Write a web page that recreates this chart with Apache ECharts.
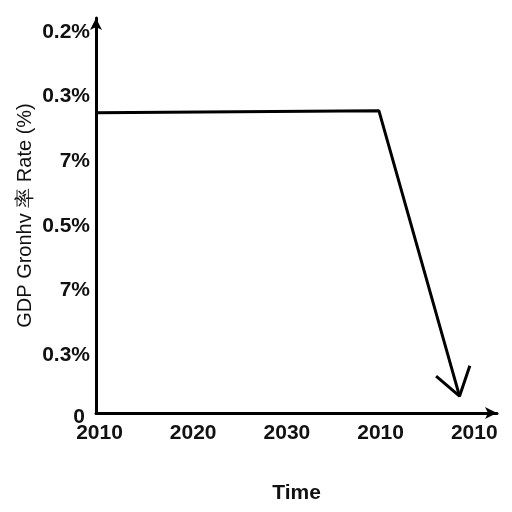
<!DOCTYPE html>
<html>
<head>
<meta charset="utf-8">
<script src="https://cdn.jsdelivr.net/npm/echarts@6/dist/echarts.min.js"></script>
<style>html,body{margin:0;padding:0;background:#fff}#c{width:512px;height:512px}</style>
</head>
<body>
<div id="c"></div>
<script>
// Tick labels (as printed on the chart)
const xTickLabels = ['2010', '2020', '2030', '2010', '2010'];
const yTickLabels = ['0', '0.3%', '7%', '0.5%', '7%', '0.3%', '0.2%'];
// Main trend line: [x position index, y position index]
const trendX = [0, 3.02, 3.88];
const trendY = [4.64, 4.67, 0.26];
// Open arrowhead at the end of the trend
const headX = [3.63, 3.88, 3.99];
const headY = [0.57, 0.26, 0.73];

const font = '"Liberation Sans", Arial, sans-serif';
const chart = echarts.init(document.getElementById('c'), null, {renderer: 'canvas'});
const lab = {fontFamily: font, fontSize: 21, fontWeight: 'bold', color: '#111'};
chart.setOption({
  backgroundColor: '#fff',
  animation: false,
  grid: {left: 96, right: 15, top: 18, bottom: 99},
  xAxis: {
    type: 'value', min: 0, max: 4.28, interval: 1,
    name: 'Time', nameLocation: 'middle', nameGap: 70, nameMoveOverlap: false,
    nameTextStyle: {fontFamily: font, fontSize: 21, fontWeight: 'bold', color: '#111'},
    axisLine: {show: true, symbol: ['none', 'arrow'], symbolSize: [9, 12], symbolOffset: [0, 0],
      lineStyle: {color: '#000', width: 3}},
    axisTick: {show: false},
    splitLine: {show: false},
    axisLabel: {
      margin: 10, ...lab,
      showMaxLabel: false,
      formatter: v => (Number.isInteger(v) && xTickLabels[v] !== undefined) ? '{a|' + xTickLabels[v] + '}' : '',
      rich: {a: {...lab, padding: [0, 0, 0, 7]}}
    }
  },
  yAxis: {
    type: 'value', min: 0, max: 6.105, interval: 1,
    name: 'GDP Gronhv 率 Rate (%)', nameLocation: 'middle', nameGap: 61, nameMoveOverlap: false,
    nameTextStyle: {fontFamily: font, fontSize: 20, color: '#111'},
    axisLine: {show: true, symbol: ['none', 'arrow'], symbolSize: [9, 12], symbolOffset: [0, 0],
      lineStyle: {color: '#000', width: 3}},
    axisTick: {show: false},
    splitLine: {show: false},
    axisLabel: {
      margin: 6, ...lab,
      showMaxLabel: false,
      formatter: v => {
        if (!Number.isInteger(v) || yTickLabels[v] === undefined) return '';
        return (v === 0 ? '{z|' : '{a|') + yTickLabels[v] + '}';
      },
      rich: {
        z: {...lab, padding: [8, 5, 0, 0]},
        a: {...lab, padding: [14, 0, 0, 0]}
      }
    }
  },
  series: [
    {type: 'line', data: trendX.map((x, i) => [x, trendY[i]]), symbol: 'none',
      lineStyle: {color: '#000', width: 3}},
    {type: 'line', data: headX.map((x, i) => [x, headY[i]]), symbol: 'none',
      lineStyle: {color: '#000', width: 3}}
  ]
});
</script>
</body>
</html>
